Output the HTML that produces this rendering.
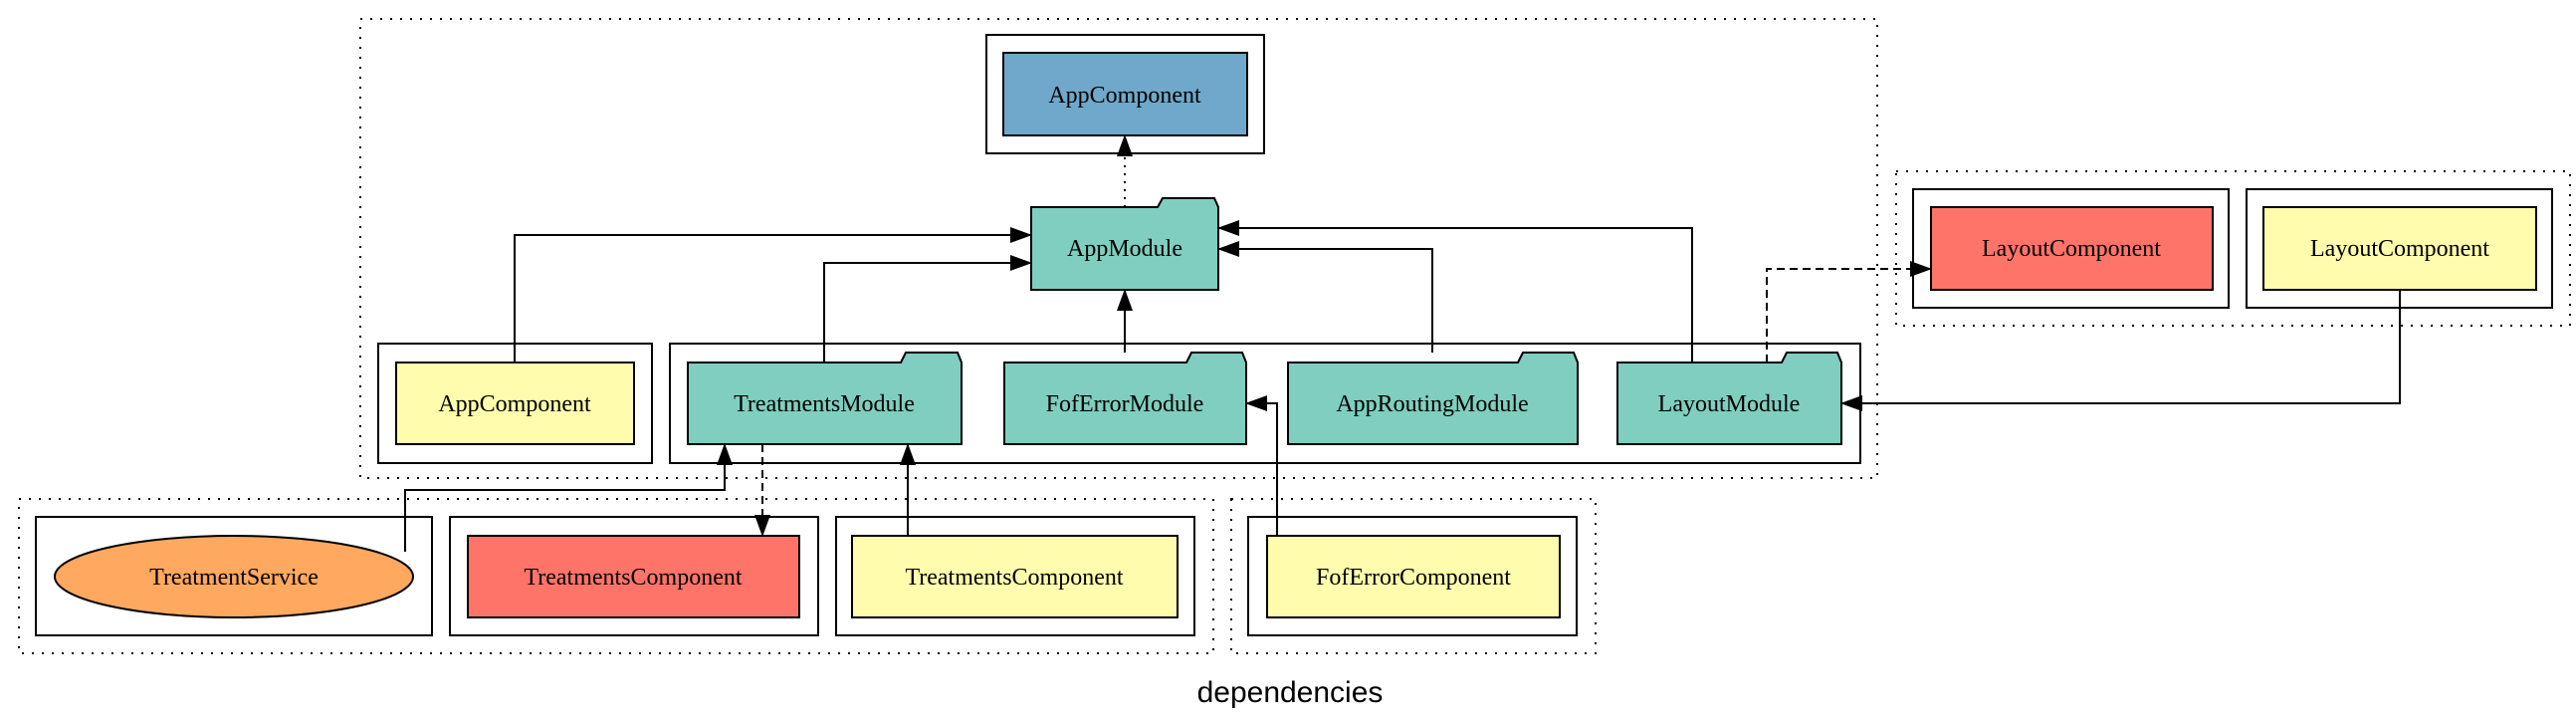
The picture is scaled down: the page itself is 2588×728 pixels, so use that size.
<!DOCTYPE html>
<html><head><meta charset="utf-8"><style>html,body{margin:0;padding:0;background:#fff}svg{display:block}</style></head>
<body>
<svg width="2588" height="728" viewBox="0 0 2588 728" xmlns="http://www.w3.org/2000/svg" font-family="'Liberation Serif', serif" font-size="24">
<defs>
<marker id="a" markerWidth="22" markerHeight="16" refX="20" refY="8" orient="auto" markerUnits="userSpaceOnUse" viewBox="0 0 22 16"><path d="M0,0 L22,8 L0,16 z" fill="#000"/></marker>
</defs>
<rect width="2588" height="728" fill="#fff"/>
<g fill="none" stroke="#000" stroke-width="2" stroke-dasharray="2,8">
<rect x="362" y="19" width="1524" height="461"/>
<rect x="19" y="501" width="1200" height="155"/>
<rect x="1237" y="501" width="366" height="155"/>
<rect x="1905" y="172" width="677" height="155"/>
</g>
<g fill="none" stroke="#000" stroke-width="2">
<rect x="991" y="35" width="279" height="119"/>
<rect x="380" y="345" width="275" height="120"/>
<rect x="673" y="345" width="1196" height="120"/>
<rect x="36" y="519" width="398" height="119"/>
<rect x="452" y="519" width="370" height="119"/>
<rect x="840" y="519" width="360" height="119"/>
<rect x="1254" y="519" width="330" height="119"/>
<rect x="1922" y="190" width="317" height="119"/>
<rect x="2257" y="190" width="307" height="119"/>
</g>
<g stroke="#000" stroke-width="2">
<rect x="1008" y="53" width="245" height="83" fill="#6fa8ca"/>
<rect x="398" y="364" width="239" height="82" fill="#fffcad"/>
<rect x="470" y="538" width="333" height="82" fill="#ff7469"/>
<rect x="856" y="538" width="327" height="82" fill="#fffcad"/>
<rect x="1273" y="538" width="294" height="82" fill="#fffcad"/>
<rect x="1940" y="208" width="283" height="83" fill="#ff7469"/>
<rect x="2274" y="208" width="274" height="83" fill="#fffcad"/>
<ellipse cx="235" cy="579" rx="180" ry="41" fill="#ffa85f"/>
<path d="M1036,208 H1163 L1168,199 H1220 L1224,208 V291 H1036 Z" fill="#7fcebf"/>
<path d="M691,364 H905 L910,354 H962 L966,364 V446 H691 Z" fill="#7fcebf"/>
<path d="M1009,364 H1192 L1197,354 H1248 L1252,364 V446 H1009 Z" fill="#7fcebf"/>
<path d="M1294,364 H1525 L1530,354 H1581 L1585,364 V446 H1294 Z" fill="#7fcebf"/>
<path d="M1625,364 H1790 L1795,354 H1846 L1850,364 V446 H1625 Z" fill="#7fcebf"/>
</g>
<g fill="none" stroke="#000" stroke-width="2" marker-end="url(#a)">
<path d="M1130,208 V137" stroke-dasharray="2,6"/>
<path d="M517,364 V236 H1035"/>
<path d="M828,364 V264 H1035"/>
<path d="M1130,354 V292"/>
<path d="M1439,354 V250 H1225"/>
<path d="M1700,364 V229 H1225"/>
<path d="M1775,364 V270 H1939" stroke-dasharray="8,5"/>
<path d="M2411,291 V405 H1851"/>
<path d="M407,554 V492 H728 V447"/>
<path d="M766,446 V537" stroke-dasharray="8,5"/>
<path d="M912,538 V447"/>
<path d="M1283,538 V405 H1253"/>
</g>
<g text-anchor="middle" fill="#000">
<text x="1130" y="103">AppComponent</text>
<text x="1130" y="257">AppModule</text>
<text x="517" y="413">AppComponent</text>
<text x="828" y="413">TreatmentsModule</text>
<text x="1130" y="413">FofErrorModule</text>
<text x="1439" y="413">AppRoutingModule</text>
<text x="1737" y="413">LayoutModule</text>
<text x="235" y="587">TreatmentService</text>
<text x="636" y="587">TreatmentsComponent</text>
<text x="1019" y="587">TreatmentsComponent</text>
<text x="1420" y="587">FofErrorComponent</text>
<text x="2081" y="257">LayoutComponent</text>
<text x="2411" y="257">LayoutComponent</text>
<text x="1296" y="705" font-family="'Liberation Sans', sans-serif" font-size="30">dependencies</text>
</g>
</svg>
</body></html>
